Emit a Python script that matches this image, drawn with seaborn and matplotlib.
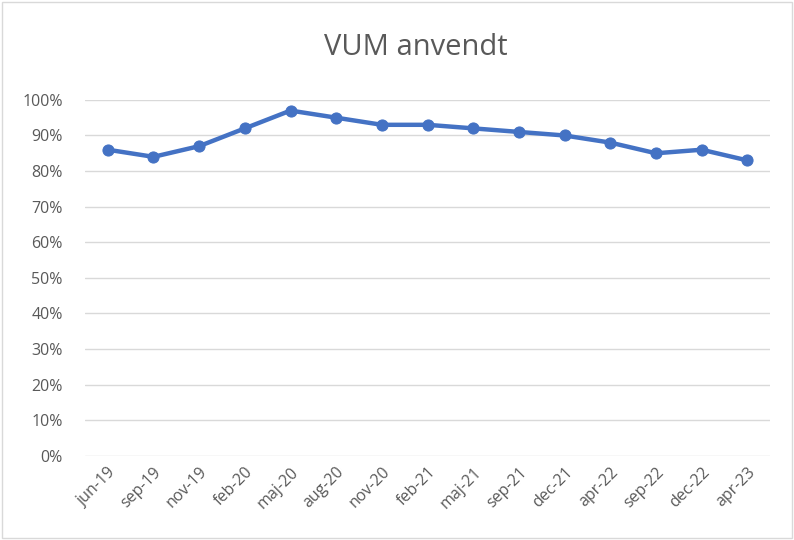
import matplotlib
matplotlib.use("Agg")
import matplotlib.pyplot as plt
import seaborn as sns
import pandas as pd
from matplotlib.ticker import PercentFormatter

# data
months = ["jun-19", "sep-19", "nov-19", "feb-20", "maj-20", "aug-20", "nov-20", "feb-21",
          "maj-21", "sep-21", "dec-21", "apr-22", "sep-22", "dec-22", "apr-23"]
andel = [0.86, 0.84, 0.87, 0.92, 0.97, 0.95, 0.93, 0.93,
         0.92, 0.91, 0.90, 0.88, 0.85, 0.86, 0.83]

df = pd.DataFrame({"maaned": months, "andel": andel})

sns.set_style("white")
plt.rcParams["font.family"] = ["Open Sans", "DejaVu Sans"]

fig = plt.figure(figsize=(7.94, 5.40), dpi=100)
ax = fig.add_axes([0.107, 0.156, 0.863, 0.659])

sns.lineplot(data=df, x="maaned", y="andel", sort=False, ax=ax,
             color="#4472C4", linewidth=3.2, marker="o", markersize=8,
             markeredgecolor="#4472C4")

ax.set_ylim(0, 1)
ax.set_xlim(-0.5, len(months) - 0.5)
ax.set_yticks([i / 10 for i in range(11)])
ax.yaxis.set_major_formatter(PercentFormatter(1.0, decimals=0))
ax.grid(axis="y", color="#D9D9D9", linewidth=1)
ax.set_axisbelow(True)
for s in ax.spines.values():
    s.set_visible(False)
ax.set_xlabel("")
ax.set_ylabel("")
ax.tick_params(axis="both", length=0, colors="#595959", labelsize=11.5)
ax.tick_params(axis="y", pad=16)
ax.tick_params(axis="x", pad=6)
plt.setp(ax.get_xticklabels(), rotation=45, ha="right", rotation_mode="anchor")

fig.text(0.524, 0.912, "VUM anvendt", ha="center", va="center", fontsize=21, color="#595959")

fig.patches.append(plt.Rectangle((0.003, 0.003), 0.994, 0.994, transform=fig.transFigure,
                                 fill=False, edgecolor="#D9D9D9", linewidth=1))

fig.savefig("out.png", dpi=100)
